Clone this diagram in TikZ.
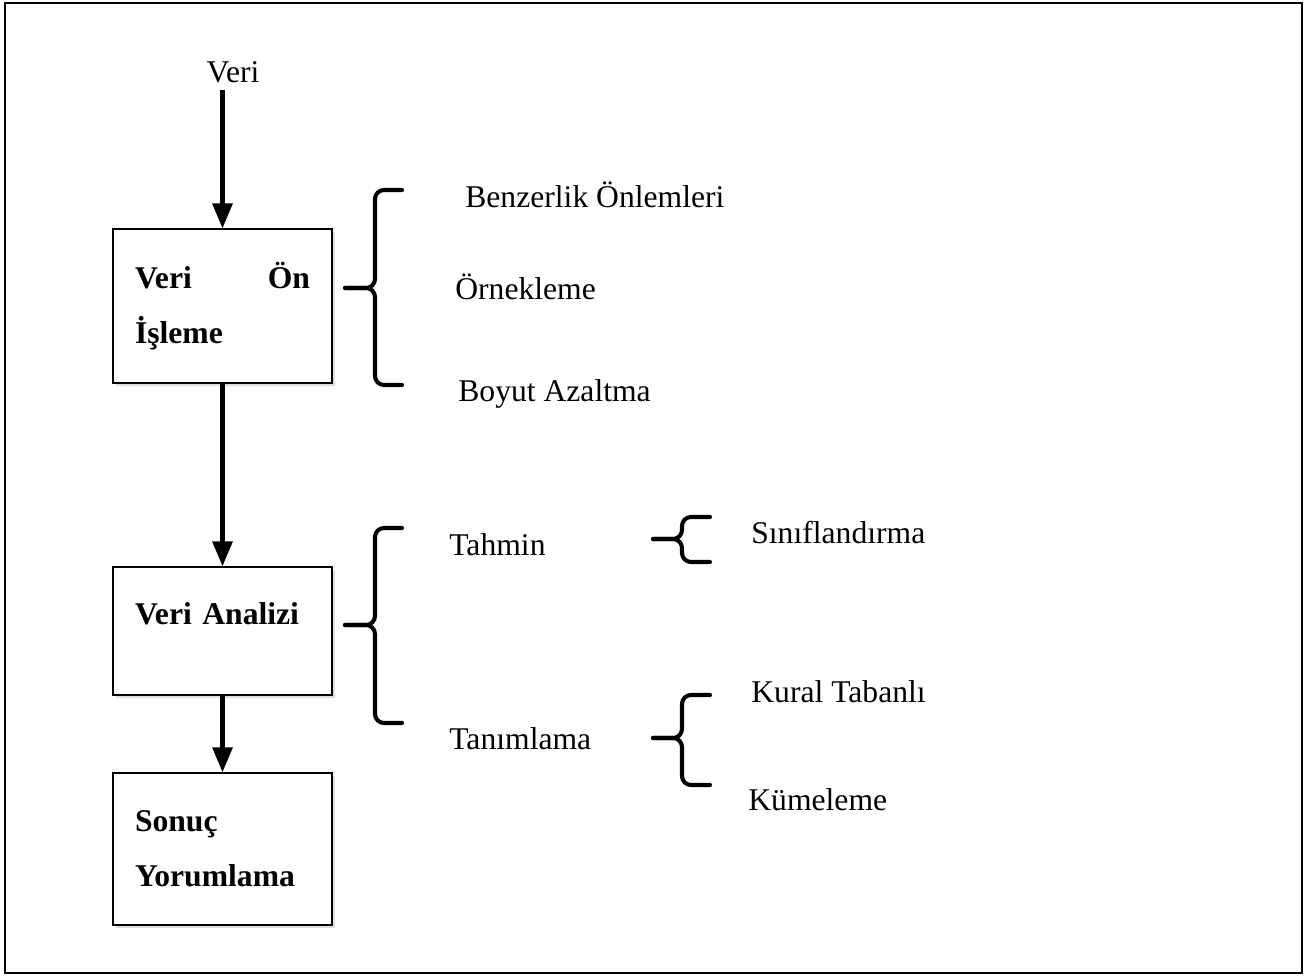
\documentclass[tikz,border=0pt]{standalone}
\usepackage{fontspec}
\setmainfont{Liberation Serif}
\usetikzlibrary{arrows,positioning,shadows}

\begin{document}
\begin{tikzpicture}[
    every node/.style={font=\fontsize{18}{31}\selectfont},
    stage/.style={rectangle, draw=black, line width=1.1pt, fill=white, text width=3.5cm, inner xsep=0.44cm, minimum width=4.38cm, font=\fontsize{18}{31}\selectfont\bfseries, drop shadow={opacity=0.25, shadow xshift=0.06cm, shadow yshift=-0.06cm}},
    item/.style={anchor=base west, inner sep=0pt},
    arrow/.style={->, >=triangle 45, line width=2.3pt, black},
    brace/.style={line width=2.3pt, rounded corners=0.18cm, line cap=round}
]

% Page frame
\useasboundingbox (0,0) rectangle (26.14,-19.52);
\draw[line width=0.85pt] (0.1,-0.06) rectangle (26.04,-19.46);

% Main stages - arranged vertically
\node[anchor=base] (veri) at (4.66,-1.66) {Veri};

\node[stage, align=justify, minimum height=3.08cm] (onisleme) at (4.45,-6.12) {Veri Ön İşleme};

\node[stage, align=left, minimum height=2.56cm, text depth=0.71cm, below=3.64cm of onisleme] (analiz) {Veri Analizi};

\node[stage, align=left, minimum height=3.04cm, below=1.52cm of analiz] (sonuc) {Sonuç\\Yorumlama};

% Flow arrows
\draw[arrow] (veri.south -| onisleme.north) -- (onisleme.north);
\draw[arrow] (onisleme) -- (analiz);
\draw[arrow] (analiz) -- (sonuc);

% Preprocessing methods
\draw[brace] (8.04,-3.8) -- (7.5,-3.8) -- (7.5,-5.76) -- (6.9,-5.76);
\draw[brace] (8.04,-7.7) -- (7.5,-7.7) -- (7.5,-5.76) -- (6.9,-5.76);

\node[item] (benzerlik) at (9.3,-4.16) {Benzerlik Önlemleri};
\node[item] (ornekleme) at (9.1,-6.0) {Örnekleme};
\node[item] (boyut) at (9.16,-8.04) {Boyut Azaltma};

% Analysis tasks
\draw[brace] (8.04,-10.56) -- (7.5,-10.56) -- (7.5,-12.5) -- (6.9,-12.5);
\draw[brace] (8.04,-14.46) -- (7.5,-14.46) -- (7.5,-12.5) -- (6.9,-12.5);

\node[item] (tahmin) at (8.98,-11.12) {Tahmin};
\node[item] (tanimlama) at (8.98,-14.98) {Tanımlama};

% Prediction
\draw[brace] (14.2,-10.34) -- (13.64,-10.34) -- (13.64,-10.78) -- (13.06,-10.78);
\draw[brace] (14.2,-11.24) -- (13.64,-11.24) -- (13.64,-10.78) -- (13.06,-10.78);

\node[item] (siniflandirma) at (15.02,-10.88) {Sınıflandırma};

% Description
\draw[brace] (14.2,-13.9) -- (13.64,-13.9) -- (13.64,-14.76) -- (13.06,-14.76);
\draw[brace] (14.2,-15.7) -- (13.64,-15.7) -- (13.64,-14.76) -- (13.06,-14.76);

\node[item] (kural) at (15.02,-14.06) {Kural Tabanlı};
\node[item] (kumeleme) at (14.96,-16.2) {Kümeleme};

\end{tikzpicture}
\end{document}
